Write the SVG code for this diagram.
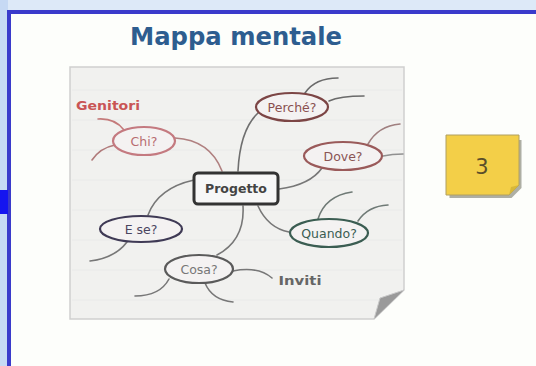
<svg xmlns="http://www.w3.org/2000/svg" width="536" height="366" viewBox="0 0 536 366">
<defs>
<style>
.lbl{font-family:"DejaVu Sans","Liberation Sans",sans-serif;text-anchor:middle}
.conn{fill:none;stroke-width:1.6;stroke-linecap:round}
.ell{fill:#f4f2f2;stroke-width:2.2}
</style>
<filter id="blur" x="-10%" y="-50%" width="120%" height="200%"><feGaussianBlur stdDeviation="0.8"/></filter>
</defs>
<rect x="0" y="0" width="536" height="366" fill="#fdfefb"/>
<rect x="0" y="0" width="536" height="11" fill="#dde9f8"/>
<rect x="0" y="0" width="8" height="366" fill="#c6d9f4"/>
<rect x="7" y="10" width="529" height="4" fill="#3a3acb"/>
<rect x="7" y="10" width="4" height="356" fill="#3a3acb"/>
<rect x="0" y="190" width="8" height="24" fill="#1515f0"/>
<line x1="20" y1="341" x2="536" y2="341" stroke="#555" stroke-width="3" filter="url(#blur)"/>

<text x="236" y="45" class="lbl" font-size="25" font-weight="bold" fill="#2d5d8f" textLength="212" lengthAdjust="spacingAndGlyphs">Mappa mentale</text>

<g id="paper">
<path d="M70,67 H404 V290 L374,319 H70 Z" fill="#f1f1ef" stroke="#cfcfcf" stroke-width="1.5"/>
<g stroke="#e8eae8" stroke-width="0.8">
<line x1="72" y1="90" x2="402" y2="90"/><line x1="72" y1="120" x2="402" y2="120"/><line x1="72" y1="150" x2="402" y2="150"/><line x1="72" y1="180" x2="402" y2="180"/><line x1="72" y1="210" x2="402" y2="210"/><line x1="72" y1="240" x2="402" y2="240"/><line x1="72" y1="270" x2="402" y2="270"/><line x1="72" y1="300" x2="390" y2="300"/>
</g>
<path d="M404,290 L374,319 L380,298 Z" fill="#9a9a9a"/>
<path d="M404,290 L380,298 L374,319" fill="none" stroke="#c8c8c8" stroke-width="1"/>
</g>

<g id="connectors">
<path class="conn" stroke="#c47a7a" d="M98,119 Q115,118 124,130"/>
<path class="conn" stroke="#b07a7a" d="M92,160 Q100,148 115,145"/>
<path class="conn" stroke="#b08080" d="M175,138 Q210,140 222,171"/>
<path class="conn" stroke="#6f6f6f" d="M258,113 Q240,130 238,171"/>
<path class="conn" stroke="#6a6a6a" d="M305,93 Q315,78 338,78"/>
<path class="conn" stroke="#6a6a6a" d="M329,101 Q340,96 364,96"/>
<path class="conn" stroke="#a08080" d="M368,144 Q378,126 400,124"/>
<path class="conn" stroke="#909090" d="M383,156 Q392,154 403,154"/>
<path class="conn" stroke="#777" d="M322,168 Q310,185 279,189"/>
<path class="conn" stroke="#777" d="M194,180 Q158,188 148,215"/>
<path class="conn" stroke="#777" d="M127,242 Q115,258 90,261"/>
<path class="conn" stroke="#777" d="M258,206 Q268,228 289,232"/>
<path class="conn" stroke="#6f7a76" d="M318,219 Q325,196 352,192"/>
<path class="conn" stroke="#6f7a76" d="M358,221 Q368,206 388,205"/>
<path class="conn" stroke="#777" d="M243,206 Q245,240 217,255"/>
<path class="conn" stroke="#777" d="M169,279 Q160,296 135,296"/>
<path class="conn" stroke="#777" d="M205,283 Q212,300 233,302"/>
<path class="conn" stroke="#777" d="M233,271 Q258,266 272,278"/>
</g>

<g id="genitori"><text x="108" y="110" class="lbl" font-size="12" font-weight="bold" fill="#c95555" textLength="64" lengthAdjust="spacingAndGlyphs">Genitori</text></g>
<g id="chi"><ellipse class="ell" cx="144" cy="141" rx="31" ry="14" stroke="#c47a80"/><text x="144" y="145.500" class="lbl" font-size="12.500" fill="#b86c70">Chi?</text></g>
<g id="perche"><ellipse class="ell" cx="292" cy="107" rx="36" ry="14" stroke="#7c4545"/><text x="292" y="111.500" class="lbl" font-size="12.500" fill="#8a5050">Perché?</text></g>
<g id="dove"><ellipse class="ell" cx="343" cy="156" rx="39" ry="14" stroke="#9a5a5a"/><text x="343" y="160.500" class="lbl" font-size="12.500" fill="#8a5555">Dove?</text></g>
<g id="progetto"><rect x="194" y="173" width="84" height="31" rx="4" fill="#f7f7f7" stroke="#333" stroke-width="3"/><text x="236" y="193" class="lbl" font-size="12.500" font-weight="bold" fill="#444">Progetto</text></g>
<g id="ese"><ellipse class="ell" cx="141" cy="229" rx="41" ry="13" stroke="#3f3a55"/><text x="141" y="233.500" class="lbl" font-size="12.500" fill="#4a4560">E se?</text></g>
<g id="quando"><ellipse class="ell" cx="329" cy="233" rx="39" ry="14" stroke="#3b5d52"/><text x="329" y="237.500" class="lbl" font-size="12.500" fill="#3b5d52">Quando?</text></g>
<g id="cosa"><ellipse class="ell" cx="199" cy="269" rx="34" ry="14" stroke="#5a5a5a"/><text x="199" y="273.500" class="lbl" font-size="12.500" fill="#777">Cosa?</text></g>
<g id="inviti"><text x="300" y="285" class="lbl" font-size="12.500" font-weight="bold" fill="#666" textLength="43" lengthAdjust="spacingAndGlyphs">Inviti</text></g>

<g id="note3">
<path d="M448,138 H520 V186 L510,196 H448 Z" fill="#7a7a6a" transform="translate(1.500,2)" opacity="0.6"/>
<path d="M446,135 H519 V185 L509,195 H446 Z" fill="#f3cf48" stroke="#b0a060" stroke-width="1"/>
<path d="M519,185 L509,195 L511,187 Z" fill="#d8b838"/>
<text x="482" y="174" class="lbl" font-size="21" fill="#5a4e2a">3</text>
</g>
</svg>
